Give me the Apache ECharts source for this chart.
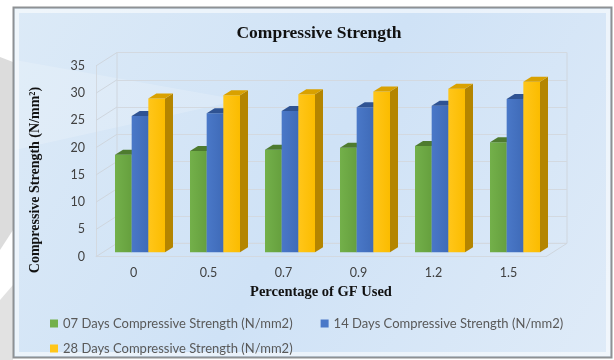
<!DOCTYPE html>
<html>
<head>
<meta charset="utf-8">
<script src="https://cdn.jsdelivr.net/npm/echarts@6/dist/echarts.min.js"></script>
<style>
  html, body { margin: 0; padding: 0; background: #ffffff; }
  #chart { width: 614px; height: 360px; }
</style>
</head>
<body>
<div id="chart"></div>
<script>
// GF content (%) on the category axis
const categories = ['0', '0.5', '0.7', '0.9', '1.2', '1.5'];

// Compressive strength in N/mm2 at each curing age
const days07 = [17.9, 18.6, 18.8, 19.2, 19.5, 20.2];
const days14 = [25.0, 25.5, 25.9, 26.6, 26.9, 28.1];
const days28 = [28.2, 28.8, 29.0, 29.5, 30.0, 31.3];

const seriesNames = [
  '07 Days Compressive Strength (N/mm2)',
  '14 Days Compressive Strength (N/mm2)',
  '28 Days Compressive Strength (N/mm2)'
];

// Value axis range and step
const yMin = 0, yMax = 35, yStep = 5;
const yTicks = [];
for (let v = yMin; v <= yMax; v += yStep) yTicks.push(v);

// Face colours for each prism: front, top, side
const palette = [
  { front: ['#73b04a', '#66a03e'], top: '#4e7b2f', side: '#4a7430' },
  { front: ['#4a78c8', '#3f6bb8'], top: '#2f5393', side: '#2c4e8a' },
  { front: ['#ffc61a', '#fbbc00'], top: '#d9a100', side: '#b48500' }
];

// Depth offsets of the pseudo-3D box
const barDepth = [8, 5];        // bar top/side extrusion
const wallDepth = [21, 13.4];   // side wall / floor depth

const chart = echarts.init(document.getElementById('chart'), null, { renderer: 'canvas' });

function barRenderer(k) {
  return function (params, api) {
    const i = api.value(0);
    const v = api.value(1);
    const base = api.coord([i, 0]);
    const top = api.coord([i, v]);
    const band = api.size([1, 0])[0];
    const w = band * 0.2222;
    const x0 = base[0] + (k - 1.5) * w;
    const x1 = x0 + w;
    const ty = top[1], by = base[1];
    const dx = barDepth[0], dy = barDepth[1];
    const c = palette[k];
    return {
      type: 'group',
      children: [
        {
          type: 'polygon',
          shape: { points: [[x1, ty], [x1 + dx, ty - dy], [x1 + dx, by - dy], [x1, by]] },
          style: { fill: c.side }
        },
        {
          type: 'rect',
          shape: { x: x0, y: ty, width: w, height: by - ty },
          style: {
            fill: new echarts.graphic.LinearGradient(0, 0, 1, 0, [
              { offset: 0, color: c.front[0] },
              { offset: 1, color: c.front[1] }
            ])
          }
        },
        {
          type: 'polygon',
          shape: { points: [[x0, ty], [x1, ty], [x1 + dx, ty - dy], [x0 + dx, ty - dy]] },
          style: { fill: c.top }
        }
      ]
    };
  };
}

// Side wall gridlines and floor edge, drawn on the front plane
function wallRenderer(params, api) {
  const v = api.value(0);
  const band = api.size([1, 0])[0];
  const pL = api.coord([0, v]);
  const xl = pL[0] - band / 2;
  const children = [{
    type: 'line',
    shape: { x1: xl, y1: pL[1], x2: xl + wallDepth[0], y2: pL[1] - wallDepth[1] },
    style: { stroke: '#cfd6de', lineWidth: 1 }
  }];
  if (v === yMin) {
    const pR = api.coord([categories.length - 1, v]);
    const xr = pR[0] + band / 2;
    children.push({
      type: 'line',
      shape: { x1: xr, y1: pR[1], x2: xr + wallDepth[0], y2: pR[1] - wallDepth[1] },
      style: { stroke: '#cfd6de', lineWidth: 1 }
    });
  }
  return { type: 'group', children: children };
}

const gridW = 450, gridH = 190.8;
const frontGrid = { left: 96, top: 65.9 };
const barGrid = { left: 102.5, top: 61.5 };
const backGrid = { left: frontGrid.left + wallDepth[0], top: frontGrid.top - wallDepth[1] };

const labelFont = 'Lato, "Open Sans", sans-serif';
const serifFont = '"Liberation Serif", "DejaVu Serif", serif';

const option = {
  backgroundColor: '#ffffff',
  animation: false,
  title: {
    text: 'Compressive Strength',
    left: 314,
    top: 19,
    textAlign: 'center',
    textStyle: { fontFamily: serifFont, fontWeight: 'bold', fontSize: 17.5, color: '#111111' }
  },
  legend: [
    {
      data: [seriesNames[0], seriesNames[1]],
      left: 45, top: 312, orient: 'horizontal',
      itemWidth: 8, itemHeight: 8, itemGap: 28,
      icon: 'rect',
      textStyle: { fontFamily: labelFont, fontSize: 13, color: '#595959' }
    },
    {
      data: [seriesNames[2]],
      left: 45, top: 337, orient: 'horizontal',
      itemWidth: 8, itemHeight: 8,
      icon: 'rect',
      textStyle: { fontFamily: labelFont, fontSize: 13, color: '#595959' }
    }
  ],
  grid: [
    { left: barGrid.left, top: barGrid.top, width: gridW, height: gridH },
    { left: backGrid.left, top: backGrid.top, width: gridW, height: gridH,
      show: true, borderColor: '#cfd6de', borderWidth: 1, backgroundColor: 'transparent' },
    { left: frontGrid.left, top: frontGrid.top, width: gridW, height: gridH }
  ],
  xAxis: [
    { gridIndex: 0, type: 'category', data: categories, show: false },
    { gridIndex: 1, type: 'category', data: categories, show: false },
    {
      gridIndex: 2, type: 'category', data: categories,
      axisLine: { show: true, lineStyle: { color: '#d3d9e0' } },
      axisTick: { show: false },
      axisLabel: { margin: 10, color: '#404040', fontSize: 12.5, fontFamily: labelFont }
    }
  ],
  yAxis: [
    { gridIndex: 0, type: 'value', min: yMin, max: yMax, interval: yStep, show: false },
    {
      gridIndex: 1, type: 'value', min: yMin, max: yMax, interval: yStep,
      axisLine: { show: false }, axisTick: { show: false }, axisLabel: { show: false },
      splitLine: { show: true, lineStyle: { color: '#d3d9e0', width: 1 } }
    },
    {
      gridIndex: 2, type: 'value', min: yMin, max: yMax, interval: yStep,
      axisLine: { show: true, lineStyle: { color: '#d3d9e0' } },
      axisTick: { show: false },
      splitLine: { show: false },
      axisLabel: { margin: 11, color: '#404040', fontSize: 12.5, fontFamily: labelFont }
    }
  ],
  graphic: [
    // page and chart frame behind everything
    {
      type: 'polygon', z: -100, silent: true,
      shape: { points: [[0, 57], [13, 62], [13, 230], [0, 250]] },
      style: { fill: '#dcdcdc' }
    },
    {
      type: 'polygon', z: -100, silent: true,
      shape: { points: [[0, 300], [13, 285], [13, 360], [0, 360]] },
      style: { fill: '#e2e2e2' }
    },
    {
      type: 'rect', z: -99, silent: true,
      shape: { x: 13.5, y: 7.5, width: 598, height: 350 },
      style: {
        fill: new echarts.graphic.LinearGradient(0, 0, 1, 1, [
          { offset: 0, color: '#dceaf7' },
          { offset: 0.5, color: '#cfe2f6' },
          { offset: 1, color: '#dfebf8' }
        ]),
        stroke: '#8e9194', lineWidth: 2
      }
    },
    {
      type: 'rect', z: -98, silent: true,
      shape: { x: 17, y: 11, width: 591, height: 343 },
      style: { fill: 'none', stroke: 'rgba(255,255,255,0.55)', lineWidth: 4 }
    },
    {
      type: 'polygon', z: -97, silent: true,
      shape: { points: [[15, 60], [240, 100], [15, 150]] },
      style: { fill: 'rgba(255,255,255,0.18)' }
    },
    // axis titles
    {
      type: 'text', z: 100, x: 35, y: 180, rotation: Math.PI / 2,
      style: {
        text: 'Compressive Strength (N/mm²)',
        align: 'center', verticalAlign: 'middle',
        font: 'bold 14px ' + serifFont, fill: '#111111'
      }
    },
    {
      type: 'text', z: 100, x: 321, y: 292,
      style: {
        text: 'Percentage of GF Used',
        align: 'center', verticalAlign: 'middle',
        font: 'bold 14.5px ' + serifFont, fill: '#111111'
      }
    }
  ],
  series: [
    {
      type: 'custom', name: 'wall', xAxisIndex: 2, yAxisIndex: 2, silent: true,
      renderItem: wallRenderer,
      data: yTicks.map(function (v) { return [v]; }),
      encode: { y: 0 },
      z: 1
    },
    ...[days07, days14, days28].map(function (vals, k) {
      return {
        type: 'custom', name: seriesNames[k], xAxisIndex: 0, yAxisIndex: 0,
        renderItem: barRenderer(k),
        itemStyle: { color: palette[k].front[0] },
        data: vals.map(function (v, i) { return [i, v]; }),
        encode: { x: 0, y: 1 },
        z: 3 + k
      };
    })
  ]
};

chart.setOption(option);
</script>
</body>
</html>
